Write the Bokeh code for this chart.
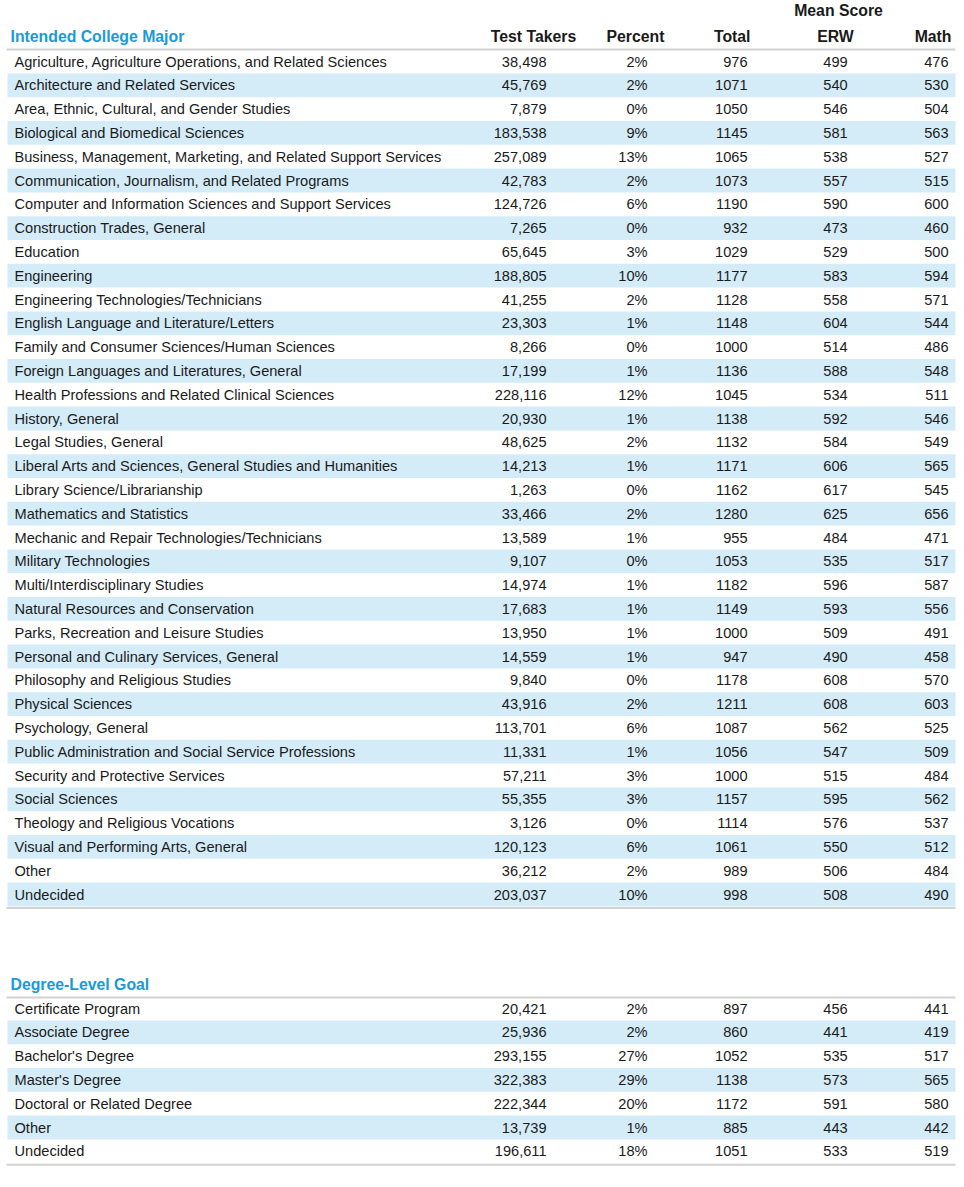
from bokeh.plotting import figure
from bokeh.models import Range1d, ColumnDataSource
from bokeh.core.properties import value
from bokeh.embed import file_html
from bokeh.resources import INLINE

# ---------------- data ----------------
major_names = [
    "Agriculture, Agriculture Operations, and Related Sciences",
    "Architecture and Related Services",
    "Area, Ethnic, Cultural, and Gender Studies",
    "Biological and Biomedical Sciences",
    "Business, Management, Marketing, and Related Support Services",
    "Communication, Journalism, and Related Programs",
    "Computer and Information Sciences and Support Services",
    "Construction Trades, General",
    "Education",
    "Engineering",
    "Engineering Technologies/Technicians",
    "English Language and Literature/Letters",
    "Family and Consumer Sciences/Human Sciences",
    "Foreign Languages and Literatures, General",
    "Health Professions and Related Clinical Sciences",
    "History, General",
    "Legal Studies, General",
    "Liberal Arts and Sciences, General Studies and Humanities",
    "Library Science/Librarianship",
    "Mathematics and Statistics",
    "Mechanic and Repair Technologies/Technicians",
    "Military Technologies",
    "Multi/Interdisciplinary Studies",
    "Natural Resources and Conservation",
    "Parks, Recreation and Leisure Studies",
    "Personal and Culinary Services, General",
    "Philosophy and Religious Studies",
    "Physical Sciences",
    "Psychology, General",
    "Public Administration and Social Service Professions",
    "Security and Protective Services",
    "Social Sciences",
    "Theology and Religious Vocations",
    "Visual and Performing Arts, General",
    "Other",
    "Undecided",
]
major_takers = [38498, 45769, 7879, 183538, 257089, 42783, 124726, 7265, 65645, 188805,
                41255, 23303, 8266, 17199, 228116, 20930, 48625, 14213, 1263, 33466,
                13589, 9107, 14974, 17683, 13950, 14559, 9840, 43916, 113701, 11331,
                57211, 55355, 3126, 120123, 36212, 203037]
major_percent = [2, 2, 0, 9, 13, 2, 6, 0, 3, 10, 2, 1, 0, 1, 12, 1, 2, 1, 0, 2,
                 1, 0, 1, 1, 1, 1, 0, 2, 6, 1, 3, 3, 0, 6, 2, 10]
major_total = [976, 1071, 1050, 1145, 1065, 1073, 1190, 932, 1029, 1177, 1128, 1148, 1000,
               1136, 1045, 1138, 1132, 1171, 1162, 1280, 955, 1053, 1182, 1149, 1000, 947,
               1178, 1211, 1087, 1056, 1000, 1157, 1114, 1061, 989, 998]
major_erw = [499, 540, 546, 581, 538, 557, 590, 473, 529, 583, 558, 604, 514, 588, 534, 592,
             584, 606, 617, 625, 484, 535, 596, 593, 509, 490, 608, 608, 562, 547, 515, 595,
             576, 550, 506, 508]
major_math = [476, 530, 504, 563, 527, 515, 600, 460, 500, 594, 571, 544, 486, 548, 511, 546,
              549, 565, 545, 656, 471, 517, 587, 556, 491, 458, 570, 603, 525, 509, 484, 562,
              537, 512, 484, 490]

degree_names = ["Certificate Program", "Associate Degree", "Bachelor's Degree",
                "Master's Degree", "Doctoral or Related Degree", "Other", "Undecided"]
degree_takers = [20421, 25936, 293155, 322383, 222344, 13739, 196611]
degree_percent = [2, 2, 27, 29, 20, 1, 18]
degree_total = [897, 860, 1052, 1138, 1172, 885, 1051]
degree_erw = [456, 441, 535, 573, 591, 443, 533]
degree_math = [441, 419, 517, 565, 580, 442, 519]

col_headers = ["Test Takers", "Percent", "Total", "ERW", "Math"]
group_header = "Mean Score"
section_titles = ["Intended College Major", "Degree-Level Goal"]

# ---------------- style ----------------
FONT = value("Liberation Sans")
BLUE = "#1a9ad9"
STRIPE = "#d4ecf8"
LINE = "#d2d2d2"
TXT = "#1a1a1a"
ROW_H = 23.8
BODY = "14.6px"
HEAD = "15.8px"

W, H = 960, 1178
p = figure(width=W, height=H, x_range=Range1d(0, W), y_range=Range1d(H, 0),
           output_backend="svg", toolbar_location=None, min_border=0)
p.axis.visible = False
p.grid.visible = False
p.outline_line_color = None
p.background_fill_color = "white"

# column anchors: (x, align)
cols = [(546, "right"), (647, "right"), (747, "right"), (835, "center"), (948, "right")]
head_pos = [(533, "center"), (635, "center"), (750, "right"), (835, "center"), (951, "right")]


def draw_section(names, takers, percent, total, erw, math, first_y, line_y):
    n = len(names)
    ys = [first_y + i * ROW_H for i in range(n)]
    sy = [ys[i] for i in range(n) if i % 2 == 1]
    p.quad(left=7, right=955, top=[y - ROW_H / 2 for y in sy], bottom=[y + ROW_H / 2 for y in sy],
           fill_color=STRIPE, line_color=None)
    p.segment(x0=[6, 6], x1=[955, 955], y0=[line_y, ys[-1] + 13.5], y1=[line_y, ys[-1] + 13.5],
              line_color=LINE, line_width=2)
    src = ColumnDataSource(dict(
        y=ys, name=names,
        takers=[f"{v:,}" for v in takers],
        pct=[f"{v}%" for v in percent],
        total=[str(v) for v in total],
        erw=[str(v) for v in erw],
        math=[str(v) for v in math],
    ))
    p.text(x=14, y="y", text="name", source=src, text_font=FONT, text_font_size=BODY,
           text_color=TXT, text_baseline="middle", text_align="left")
    for (cx, al), field in zip(cols, ["takers", "pct", "total", "erw", "math"]):
        p.text(x=cx, y="y", text=field, source=src, text_font=FONT, text_font_size=BODY,
               text_color=TXT, text_baseline="middle", text_align=al)


draw_section(major_names, major_takers, major_percent, major_total, major_erw, major_math, 61, 49)
draw_section(degree_names, degree_takers, degree_percent, degree_total, degree_erw, degree_math,
             1008, 997)

# section titles
p.text(x=[10, 10], y=[36, 984], text=section_titles, text_font=FONT, text_font_size=HEAD,
       text_font_style="bold", text_color=BLUE, text_baseline="middle", text_align="left")

# column headers
for (hx, al), h in zip(head_pos, col_headers):
    p.text(x=[hx], y=[36], text=[h], text_font=FONT, text_font_size=HEAD,
           text_font_style="bold", text_color=TXT, text_baseline="middle", text_align=al)
p.text(x=[838], y=[10], text=[group_header], text_font=FONT, text_font_size=HEAD,
       text_font_style="bold", text_color=TXT, text_baseline="middle", text_align="center")

open("out.html", "w").write(file_html(p, INLINE))
